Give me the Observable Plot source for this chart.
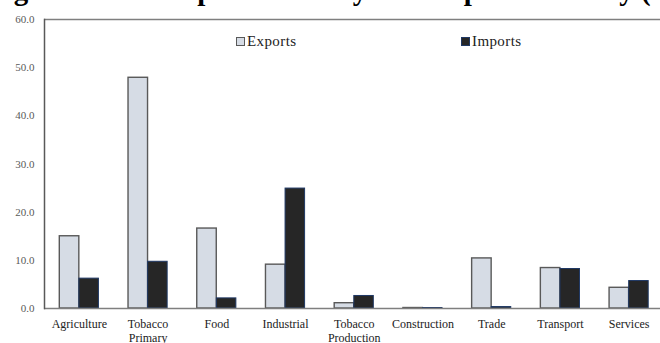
<!DOCTYPE html>
<html>
<head>
<meta charset="utf-8">
<script src="https://cdn.jsdelivr.net/npm/d3@7"></script>
<script src="https://cdn.jsdelivr.net/npm/@observablehq/plot@0.6"></script>
<style>
  html, body { margin: 0; padding: 0; background: #fff; }
  #wrap { position: relative; width: 660px; height: 343px; overflow: hidden; font-family: "Liberation Serif", "DejaVu Serif", serif; }
  #title { position: absolute; left: -12px; top: -24px; white-space: nowrap; font-weight: bold; font-size: 29px; line-height: 1; color: #000; }
  .legend { position: absolute; top: 33px; font-size: 15px; letter-spacing: 0.4px; color: #222; display: flex; align-items: center; }
  .legend .sw { display: inline-block; width: 7px; height: 7px; margin-right: 2px; }
  #chart { position: absolute; left: 0; top: 0; }
</style>
</head>
<body>
<div id="wrap">
  <div id="chart"></div>
  <div id="title">Figure 3: The Export Intensity and Import Intensity (%)</div>
  <div class="legend" style="left:236px"><span class="sw" style="background:#D6DCE5;border:1px solid #595959"></span>Exports</div>
  <div class="legend" style="left:461px"><span class="sw" style="background:#262626;border:1px solid #1F3864"></span>Imports</div>
</div>
<script>
// Sectors along the x axis (line breaks give two-line tick labels)
const sectors = ["Agriculture", "Tobacco\nPrimary", "Food", "Industrial", "Tobacco\nProduction", "Construction", "Trade", "Transport", "Services"];
// Share of output exported, by sector (%)
const exportsPct = [15.0, 47.9, 16.6, 9.1, 1.1, 0.1, 10.4, 8.4, 4.3];
// Share of supply imported, by sector (%)
const importsPct = [6.2, 9.7, 2.1, 24.9, 2.6, 0.1, 0.3, 8.2, 5.7];
// Value-axis ticks
const yTicks = [0, 10, 20, 30, 40, 50, 60];

const rows = sectors.map((s, i) => ({sector: s, exports: exportsPct[i], imports: importsPct[i]}));

const chart = Plot.plot({
  width: 660,
  height: 343,
  marginTop: 19,
  marginBottom: 35,
  marginLeft: 44,
  marginRight: 0,
  style: {fontFamily: "'Liberation Serif', serif", fontSize: "11px", color: "#333", background: "#fff", overflow: "visible"},
  x: {domain: sectors, range: [44.5, 663], paddingInner: 0.716, paddingOuter: 0.358, round: false, label: null},
  y: {domain: [0, 60], label: null},
  marks: [
    Plot.barY(rows, {x: "sector", y: "exports", dx: -9.8, fill: "#D6DCE5", stroke: "#595959", strokeWidth: 1.4}),
    Plot.barY(rows, {x: "sector", y: "imports", dx: 9.8, fill: "#262626", stroke: "#1F3864", strokeWidth: 1}),
    Plot.ruleY([0], {stroke: "#7f7f7f", strokeWidth: 1.5}),
    Plot.ruleY([60], {stroke: "#7f7f7f", strokeWidth: 1.5}),
    Plot.frame({anchor: "left", stroke: "#595959", strokeWidth: 1.5}),
    Plot.axisY({ticks: yTicks, tickFormat: d3.format(".1f"), tickSize: 0, tickPadding: 10, fill: "#595959", fontSize: 11}),
    Plot.axisX({tickSize: 0, tickPadding: 9, fill: "#222", fontSize: 12, lineHeight: 1.2})
  ]
});
document.getElementById("chart").appendChild(chart);
</script>
</body>
</html>
